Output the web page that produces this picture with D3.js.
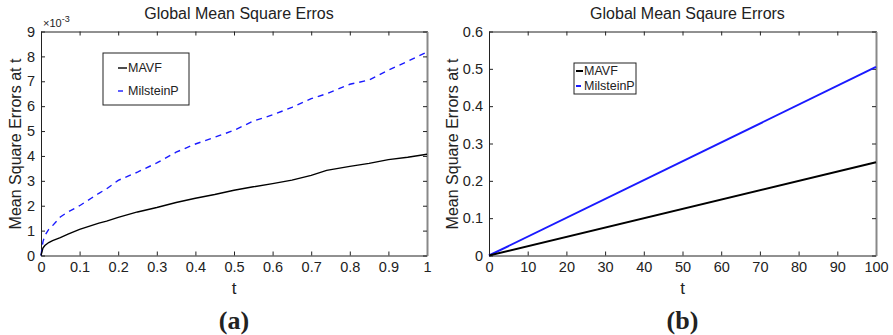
<!DOCTYPE html>
<html>
<head>
<meta charset="utf-8">
<script src="https://cdn.jsdelivr.net/npm/d3@7"></script>
<style>
  body { margin: 0; background: #fff; }
  svg text { font-family: "Liberation Sans", Arial, sans-serif; fill: #222; }
</style>
</head>
<body>
<svg id="chart" width="893" height="335"></svg>
<script>
// panel (a): values in units of 1e-3
const tA = [0, 0.005, 0.01, 0.02, 0.03, 0.05, 0.07, 0.1, 0.13, 0.15, 0.17, 0.2, 0.25, 0.3, 0.35, 0.4, 0.45, 0.5, 0.55, 0.6, 0.65, 0.7, 0.74, 0.8, 0.85, 0.9, 0.95, 1.0];
const mavfA = [0, 0.3, 0.4, 0.52, 0.6, 0.72, 0.86, 1.05, 1.2, 1.3, 1.38, 1.53, 1.75, 1.93, 2.13, 2.3, 2.45, 2.62, 2.76, 2.89, 3.03, 3.22, 3.42, 3.58, 3.7, 3.85, 3.95, 4.07];
const milA = [0, 0.55, 0.8, 1.05, 1.2, 1.55, 1.75, 2.0, 2.3, 2.5, 2.68, 3.02, 3.35, 3.72, 4.15, 4.48, 4.75, 5.03, 5.4, 5.65, 5.95, 6.3, 6.5, 6.88, 7.05, 7.45, 7.8, 8.18];
// panel (b)
const tB = [0, 100];
const mavfB = [0, 0.25];
const milB = [0, 0.505];

const xTicksA = [0, 0.1, 0.2, 0.3, 0.4, 0.5, 0.6, 0.7, 0.8, 0.9, 1];
const yTicksA = [0, 1, 2, 3, 4, 5, 6, 7, 8, 9];
const xTicksB = [0, 10, 20, 30, 40, 50, 60, 70, 80, 90, 100];
const yTicksB = [0, 0.1, 0.2, 0.3, 0.4, 0.5, 0.6];

const svg = d3.select("#chart");
const top_ = 31.5, bottom = 255.5;

function panel(cfg) {
  const x = d3.scaleLinear().domain(cfg.xDom).range([cfg.left, cfg.right]);
  const y = d3.scaleLinear().domain(cfg.yDom).range([bottom, top_]);
  const g = svg.append("g");

  const axB = g.append("g").attr("transform", `translate(0,${bottom})`)
    .call(d3.axisBottom(x).tickValues(cfg.xTicks).tickSizeInner(-4).tickSizeOuter(0).tickPadding(6).tickFormat(d => d3.format("")(d)));
  const axT = g.append("g").attr("transform", `translate(0,${top_})`)
    .call(d3.axisTop(x).tickValues(cfg.xTicks).tickSizeInner(-4).tickSizeOuter(0).tickFormat(""));
  const axL = g.append("g").attr("transform", `translate(${cfg.left},0)`)
    .call(d3.axisLeft(y).tickValues(cfg.yTicks).tickSizeInner(-4).tickSizeOuter(0).tickPadding(6).tickFormat(d => d3.format("")(d)));
  const axR = g.append("g").attr("transform", `translate(${cfg.right},0)`)
    .call(d3.axisRight(y).tickValues(cfg.yTicks).tickSizeInner(-4).tickSizeOuter(0).tickFormat(""));
  [axB, axT, axL, axR].forEach(a => {
    a.selectAll("line").attr("stroke", "#222");
    a.select(".domain").attr("stroke", "#222");
    a.selectAll("text").attr("font-size", 14.5).attr("fill", "#222")
      .style("font-family", "'Liberation Sans', Arial, sans-serif");
  });
  axR.select(".domain").attr("stroke", "#888").attr("stroke-width", 2);
  axB.selectAll("text").attr("dy", "0.71em");

  const line = d3.line().x((d, i) => x(cfg.t[i])).y(d => y(d));
  g.append("path").datum(cfg.mil).attr("d", line).attr("fill", "none")
    .attr("stroke", "#1a1aff").attr("stroke-width", cfg.milW).attr("stroke-dasharray", cfg.milDash);
  g.append("path").datum(cfg.mavf).attr("d", line).attr("fill", "none")
    .attr("stroke", "#000").attr("stroke-width", cfg.mavfW);

  const cx = (cfg.left + cfg.right) / 2;
  g.append("text").attr("x", cx + 5).attr("y", 19).attr("text-anchor", "middle")
    .attr("font-size", 16).text(cfg.title);
  g.append("text").attr("x", cx).attr("y", 294).attr("text-anchor", "middle")
    .attr("font-size", 17).text("t");
  g.append("text").attr("transform", `translate(${cfg.labelX},144) rotate(-90)`)
    .attr("dy", "0.35em").attr("text-anchor", "middle").attr("font-size", 16).text("Mean Square Errors at t");
  g.append("text").attr("x", cx).attr("y", 329).attr("text-anchor", "middle")
    .attr("font-size", 26).attr("font-weight", "bold")
    .style("font-family", "'Liberation Serif', 'Times New Roman', serif").text(cfg.caption);

  // legend
  const L = cfg.legend;
  g.append("rect").attr("x", L.x).attr("y", L.y).attr("width", L.w).attr("height", L.h)
    .attr("fill", "#fff").attr("stroke", "#222").attr("stroke-width", 1);
  const items = [["MAVF", "#000", null, L.lw], ["MilsteinP", "#1a1aff", L.dash, L.lw]];
  items.forEach((it, i) => {
    const yy = L.y + L.r0 + i * L.dy;
    g.append("line").attr("x1", L.x + L.lx0).attr("x2", L.x + L.lx1).attr("y1", yy).attr("y2", yy)
      .attr("stroke", it[1]).attr("stroke-width", it[3]).attr("stroke-dasharray", it[2]);
    g.append("text").attr("x", L.x + L.tx).attr("y", yy).attr("dy", "0.35em")
      .attr("font-size", L.fs).text(it[0]);
  });
  return g;
}

const gA = panel({
  left: 41, right: 427, xDom: [0, 1], yDom: [0, 9], xTicks: xTicksA, yTicks: yTicksA,
  t: tA, mavf: mavfA, mil: milA, milW: 1.4, mavfW: 1.4, milDash: "6,5", labelX: 15,
  title: "Global Mean Square Erros", caption: "(a)",
  legend: { x: 103, y: 53, w: 86, h: 52, r0: 15, dy: 23, lx0: 15, lx1: 24, tx: 25, fs: 12.5, lw: 1.4, dash: "5,100" }
});
gA.append("text").attr("x", 43).attr("y", 27).attr("font-size", 11)
  .html('×10<tspan dy="-5" font-size="9">-3</tspan>');

panel({
  left: 489, right: 876, xDom: [0, 100], yDom: [0, 0.6], xTicks: xTicksB, yTicks: yTicksB,
  t: tB, mavf: mavfB, mil: milB, milW: 2, mavfW: 2, milDash: null, labelX: 452,
  title: "Global Mean Sqaure Errors", caption: "(b)",
  legend: { x: 574, y: 63, w: 62, h: 31, r0: 8, dy: 15, lx0: 2, lx1: 9, tx: 10, fs: 12.5, lw: 2, dash: "5,100" }
});
</script>
</body>
</html>
